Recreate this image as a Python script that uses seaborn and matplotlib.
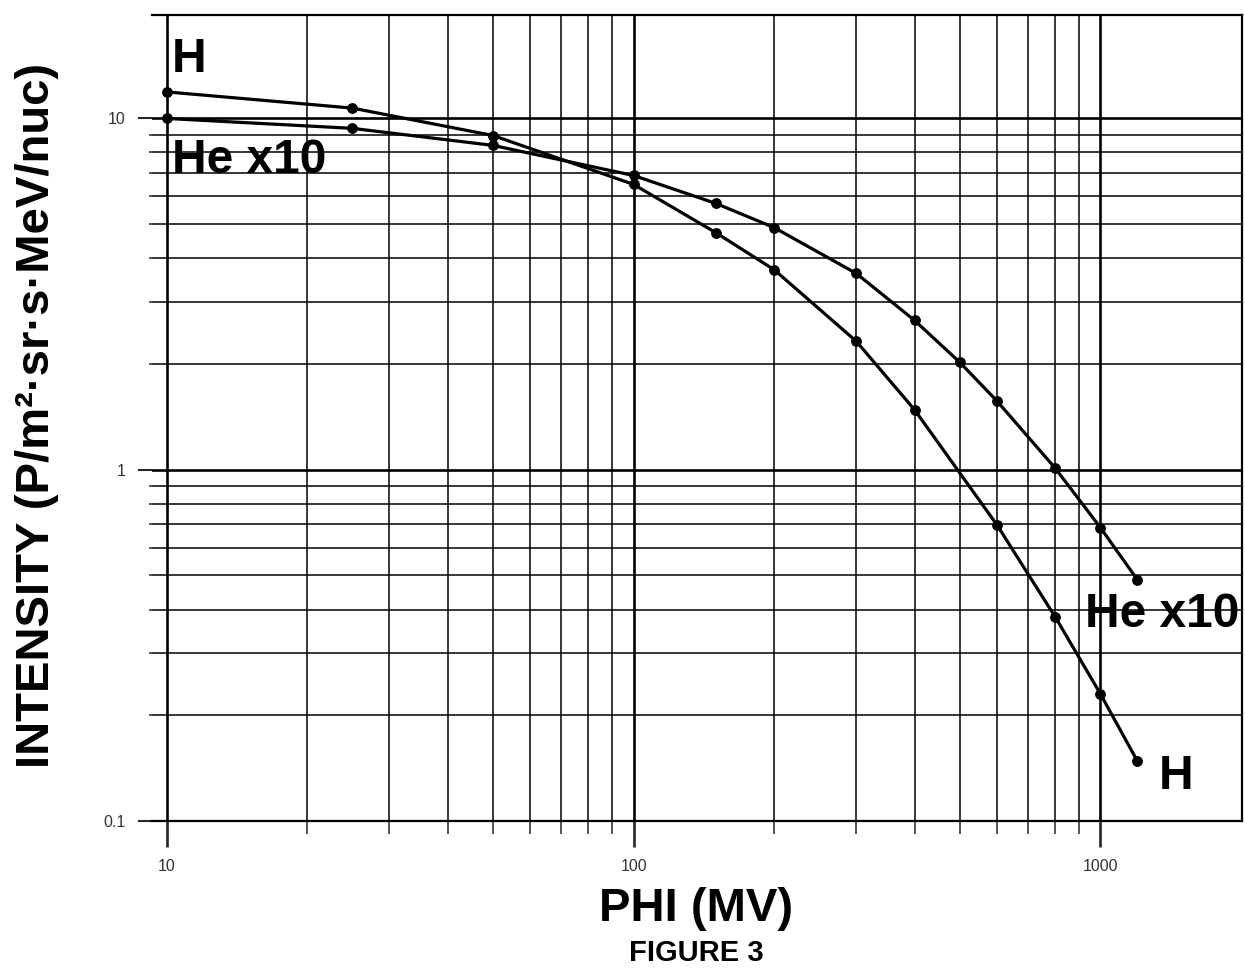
import numpy as np
import pandas as pd
import matplotlib
matplotlib.use('Agg')
import matplotlib.pyplot as plt
import matplotlib.ticker as mticker
import seaborn as sns

# values
phi_h = [10, 25, 50, 100, 150, 200, 300, 400, 600, 800, 1000, 1200]
int_h = [11.9, 10.7, 8.94, 6.49, 4.73, 3.71, 2.32, 1.48, 0.697, 0.381, 0.230, 0.148]
phi_he = [10, 25, 50, 100, 150, 200, 300, 400, 500, 600, 800, 1000, 1200]
int_he = [10.0, 9.37, 8.38, 6.88, 5.73, 4.89, 3.62, 2.66, 2.02, 1.57, 1.01, 0.684, 0.486]
x_ticks = [10, 100, 1000]
y_ticks = [0.1, 1, 10]

df = pd.concat([
    pd.DataFrame({'phi': phi_h, 'intensity': int_h, 'series': 'H'}),
    pd.DataFrame({'phi': phi_he, 'intensity': int_he, 'series': 'He x10'}),
])

sns.set_style('white')
plt.rcParams['font.family'] = ['Liberation Sans', 'DejaVu Sans']

fig = plt.figure(figsize=(12.45, 9.72), dpi=100)
ax = fig.add_axes([152 / 1245, 1 - 821 / 972, 1090 / 1245, (821 - 15) / 972])

sns.lineplot(data=df, x='phi', y='intensity', hue='series', palette=['black', 'black'],
             marker='o', markersize=7, markeredgecolor='black', linewidth=2.3,
             legend=False, ax=ax, sort=False)

ax.set_xscale('log')
ax.set_yscale('log')
ax.set_xlim(9.3, 2010)
ax.set_ylim(0.1, 19.7)

ax.xaxis.set_major_locator(mticker.FixedLocator(x_ticks))
ax.yaxis.set_major_locator(mticker.FixedLocator(y_ticks))
ax.xaxis.set_major_formatter(mticker.FixedFormatter([str(v) for v in x_ticks]))
ax.yaxis.set_major_formatter(mticker.FixedFormatter([str(v) for v in y_ticks]))
xminor = [v * m for v in [10, 100] for m in range(2, 10)]
yminor = [v * m for v in [0.1, 1] for m in range(2, 10)]
ax.xaxis.set_minor_locator(mticker.FixedLocator(xminor))
ax.yaxis.set_minor_locator(mticker.FixedLocator(yminor))
ax.xaxis.set_minor_formatter(mticker.NullFormatter())
ax.yaxis.set_minor_formatter(mticker.NullFormatter())

ax.grid(True, which='major', color='black', linewidth=1.9)
ax.grid(True, which='minor', color='black', linewidth=1.1)
ax.set_axisbelow(True)

ax.tick_params(axis='x', which='major', direction='out', length=19, width=1.9,
               pad=8, labelsize=11.5, labelcolor='#333333', bottom=True)
ax.tick_params(axis='x', which='minor', direction='out', length=9, width=1.1, bottom=True)
ax.tick_params(axis='y', which='major', direction='out', length=10, width=1.5,
               pad=9, labelsize=11.5, labelcolor='#333333', left=True)
ax.tick_params(axis='y', which='minor', direction='out', length=2, width=1.1, left=True)

for side in ['top', 'right', 'bottom']:
    ax.spines[side].set_visible(True)
    ax.spines[side].set_color('black')
    ax.spines[side].set_linewidth(1.6)
ax.spines['left'].set_visible(False)

ax.set_xlabel('')
ax.set_ylabel('')

bold = dict(fontweight='bold', color='black')
ax.text(10.25, 13.6, 'H', fontsize=34.5, ha='left', va='baseline', **bold)
ax.text(10.25, 6.98, 'He x10', fontsize=34.5, ha='left', va='baseline', **bold)
ax.text(928, 0.356, 'He x10', fontsize=34.5, ha='left', va='baseline', **bold)
ax.text(1331, 0.123, 'H', fontsize=34.5, ha='left', va='baseline', **bold)

fig.text(0.5594, 1 - 909 / 972, 'PHI (MV)', fontsize=34, ha='center', va='center', **bold)
fig.text(0.5594, 1 - 953 / 972, 'FIGURE 3', fontsize=21, ha='center', va='center', **bold)
fig.text(37 / 1245, 1 - 415 / 972, 'INTENSITY (P/m²·sr·s·MeV/nuc)', fontsize=34,
         rotation=90, ha='center', va='center', **bold)

fig.savefig('out.png', dpi=100)
